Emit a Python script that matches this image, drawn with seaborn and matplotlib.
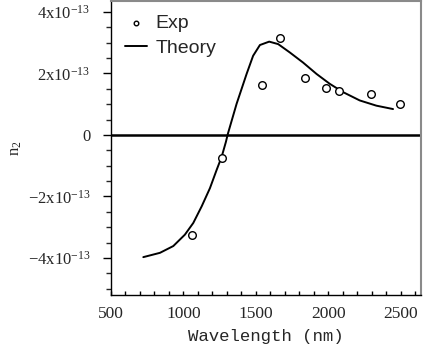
import matplotlib
matplotlib.use("Agg")
import matplotlib.pyplot as plt
from matplotlib.ticker import FixedLocator, FixedFormatter, MultipleLocator
import seaborn as sns
import pandas as pd

# Experimental points (wavelength nm, n2)
exp_wl = [1061, 1268, 1541, 1668, 1836, 1985, 2077, 2295, 2495]
exp_n2 = [-3.24e-13, -0.76e-13, 1.63e-13, 3.14e-13, 1.84e-13, 1.54e-13, 1.44e-13, 1.33e-13, 1.00e-13]

# Theory curve
th_wl = [723, 838, 930, 1010, 1068, 1126, 1183, 1229, 1264, 1293, 1307, 1367, 1436,
         1481, 1528, 1592, 1654, 1734, 1826, 1919, 2010, 2102, 2217, 2332, 2447]
th_n2 = [-3.97e-13, -3.83e-13, -3.61e-13, -3.24e-13, -2.86e-13, -2.32e-13, -1.73e-13,
         -1.14e-13, -0.71e-13, -0.23e-13, 0.04e-13, 1.01e-13, 1.98e-13, 2.57e-13,
         2.92e-13, 3.03e-13, 2.95e-13, 2.68e-13, 2.35e-13, 1.98e-13, 1.66e-13,
         1.39e-13, 1.12e-13, 0.95e-13, 0.84e-13]

y_ticks = [-4e-13, -2e-13, 0, 2e-13, 4e-13]
y_tick_labels = ["\u22124x10$^{-13}$", "\u22122x10$^{-13}$", "0", "2x10$^{-13}$", "4x10$^{-13}$"]
x_ticks = [500, 1000, 1500, 2000, 2500]

sns.set_style("ticks")
plt.rcParams["font.family"] = ["Liberation Serif", "DejaVu Serif"]
plt.rcParams["mathtext.fontset"] = "custom"
plt.rcParams["mathtext.rm"] = "Liberation Serif"
plt.rcParams["mathtext.it"] = "Liberation Serif:italic"

fig = plt.figure(figsize=(4.23, 3.46), dpi=100)
ax = fig.add_axes([111/423, 1 - 295/346, 310/423, 294/346])

df_exp = pd.DataFrame({"wl": exp_wl, "n2": exp_n2})
df_th = pd.DataFrame({"wl": th_wl, "n2": th_n2})

ax.axhline(0, color="black", lw=1.8, zorder=1)
sns.lineplot(data=df_th, x="wl", y="n2", ax=ax, color="black", lw=1.4,
             label="Theory", zorder=2)
sns.scatterplot(data=df_exp, x="wl", y="n2", ax=ax, marker="o", s=30,
                facecolor="white", edgecolor="black", linewidth=1.0,
                label="Exp", zorder=3)

ax.set_xlim(500, 2640)
ax.set_ylim(-5.2e-13, 4.35e-13)
ax.xaxis.set_major_locator(FixedLocator(x_ticks))
ax.xaxis.set_minor_locator(MultipleLocator(100))
ax.yaxis.set_major_locator(FixedLocator(y_ticks))
ax.yaxis.set_major_formatter(FixedFormatter(y_tick_labels))
ax.yaxis.set_minor_locator(MultipleLocator(0.5e-13))

ax.tick_params(axis="y", which="major", direction="out", length=5.8, width=1,
               labelsize=12, pad=9, color="black")
ax.tick_params(axis="y", which="minor", direction="out", length=3.6, width=1)
ax.tick_params(axis="x", which="both", direction="in", length=3, width=1,
               labelsize=12.5, pad=8, color="black")

for s in ["left", "bottom"]:
    ax.spines[s].set_color("black")
    ax.spines[s].set_linewidth(1.0)
for s in ["top", "right"]:
    ax.spines[s].set_color("#8a8a8a")
    ax.spines[s].set_linewidth(1.5)

ax.set_xlabel("Wavelength (nm)", family=["Liberation Mono", "DejaVu Sans Mono"],
              fontsize=12.5, labelpad=5)
ax.set_ylabel("n$_2$", fontsize=12, labelpad=3)

handles, labels = ax.get_legend_handles_labels()
order = [labels.index("Exp"), labels.index("Theory")]
leg = ax.legend([handles[i] for i in order], [labels[i] for i in order],
                loc="upper left", frameon=False, markerscale=0.6,
                prop={"family": "Liberation Sans", "size": 14},
                handlelength=1.15, handletextpad=0.45, labelspacing=0.35,
                borderaxespad=0.3)

fig.savefig("out.png", dpi=100)
